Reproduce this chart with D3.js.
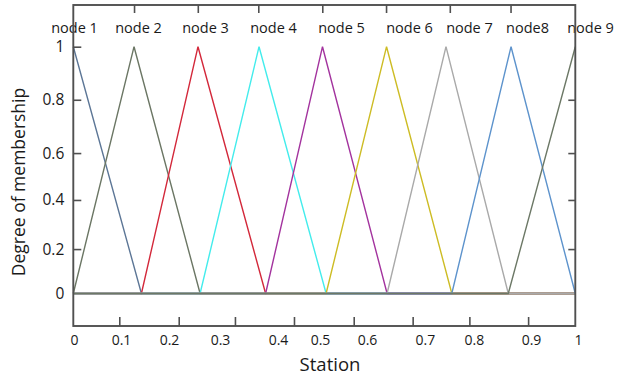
<!DOCTYPE html>
<html>
<head>
<meta charset="utf-8">
<script src="https://cdn.jsdelivr.net/npm/d3@7"></script>
<style>
  body { margin: 0; background: #fff; }
  svg { display: block; }
  text { font-family: "Open Sans", sans-serif; fill: #1a1a1a; }
</style>
</head>
<body>
<div id="chart"></div>
<script>
// membership functions (station units)
const nodes = ["node 1", "node 2", "node 3", "node 4", "node 5", "node 6", "node 7", "node8", "node 9"];
const leftFoot  = [0,     0,     0.1357, 0.2526, 0.3831, 0.5036, 0.6251, 0.754,  0.8665];
const peak      = [0,     0.121, 0.2484, 0.370,  0.4964, 0.624,  0.7424, 0.872,  1];
const rightFoot = [0.1357, 0.2526, 0.3831, 0.5036, 0.6251, 0.754, 0.8665, 1,      1];
const colors = ["#5c7696", "#6b7664", "#d3283a", "#43ecec", "#a3339e", "#cdbc24", "#a9a9a9", "#5d93cc", "#6c7866"];

// where the node names sit along the top
const nodeLabelAt = [0.0014, 0.1289, 0.2624, 0.3978, 0.5333, 0.6687, 0.7882, 0.9038, 1.0293];

// axis ticks (the picture's ticks are not evenly spaced)
const topTicks = [0.121, 0.248, 0.3685, 0.496, 0.623, 0.750, 0.871];
const bottomTicks = [0.0916, 0.210, 0.322, 0.4396, 0.5586, 0.676, 0.789, 0.906];
const xLabels = ["0", "0.1", "0.2", "0.3", "0.4", "0.5", "0.6", "0.7", "0.8", "0.9", "1"];
const xLabelAt = [0.0014, 0.095, 0.1906, 0.2922, 0.4078, 0.4914, 0.585, 0.7004, 0.798, 0.9118, 1.0054];
const yTicks = [0, 0.180, 0.379, 0.569, 0.785, 1];
const yLabels = ["0", "0.2", "0.4", "0.6", "0.8", "1"];

const W = 620, H = 377;
const boxLeft = 73.3, boxRight = 575.3, boxTop = 5, boxBottom = 326;

const svg = d3.select("#chart").append("svg")
  .attr("width", W).attr("height", H);

const x = d3.scaleLinear().domain([0, 1]).range([boxLeft, boxRight]);
const y = d3.scaleLinear().domain([0, 1]).range([293.5, 46.7]);

// lines
const line = d3.line().x(d => x(d[0])).y(d => y(d[1]));
nodes.forEach(function(n, i) {
  let pts = [];
  if (leftFoot[i] > 0) pts.push([0, 0]);
  if (leftFoot[i] < peak[i]) pts.push([leftFoot[i], 0]);
  pts.push([peak[i], 1]);
  if (rightFoot[i] > peak[i]) pts.push([rightFoot[i], 0]);
  if (rightFoot[i] < 1) pts.push([1, 0]);
  svg.append("path")
    .attr("d", line(pts))
    .attr("fill", "none")
    .attr("stroke", colors[i])
    .attr("stroke-width", 1.4);
});

// node names
const gNames = svg.append("g")
  .attr("transform", "translate(0,33)")
  .call(d3.axisTop(x).tickValues(nodeLabelAt).tickSize(0).tickPadding(0)
    .tickFormat((d, i) => nodes[i]));
gNames.select(".domain").remove();
gNames.selectAll("text").style("font-size", "14.5px").attr("fill", "#1a1a1a");

// frame
svg.append("rect")
  .attr("x", boxLeft).attr("y", boxTop)
  .attr("width", boxRight - boxLeft).attr("height", boxBottom - boxTop)
  .attr("fill", "none").attr("stroke", "#505050").attr("stroke-width", 1.9);

// ticks
function styleAxis(g) {
  g.select(".domain").remove();
  g.selectAll("line").attr("stroke", "#505050").attr("stroke-width", 1.6);
}
svg.append("g").attr("transform", "translate(0," + boxTop + ")")
  .call(d3.axisTop(x).tickValues(topTicks).tickSize(-8).tickFormat(""))
  .call(styleAxis);
svg.append("g").attr("transform", "translate(0," + boxBottom + ")")
  .call(d3.axisBottom(x).tickValues(bottomTicks).tickSize(-9).tickFormat(""))
  .call(styleAxis);
svg.append("g").attr("transform", "translate(" + boxRight + ",0)")
  .call(d3.axisRight(y).tickValues(yTicks.slice(1, 5)).tickSize(-7).tickFormat(""))
  .call(styleAxis);
const gy = svg.append("g").attr("transform", "translate(" + boxLeft + ",0)")
  .call(d3.axisLeft(y).tickValues(yTicks).tickSize(-8).tickPadding(9)
    .tickFormat((d, i) => yLabels[i]))
  .call(styleAxis);
gy.selectAll("text").style("font-size", "15.5px").attr("fill", "#111");
gy.selectAll(".tick").filter(d => d === 0).select("line").remove();

// x labels
const gx = svg.append("g").attr("transform", "translate(0," + boxBottom + ")")
  .call(d3.axisBottom(x).tickValues(xLabelAt).tickSize(0).tickPadding(9)
    .tickFormat((d, i) => xLabels[i]));
gx.select(".domain").remove();
gx.selectAll("text").style("font-size", "14px").attr("fill", "#1a1a1a");

// axis titles
svg.append("text")
  .attr("x", 330).attr("y", 371)
  .attr("text-anchor", "middle")
  .style("font-size", "18.5px")
  .text("Station");
svg.append("text")
  .attr("transform", "translate(25,182) rotate(-90)")
  .attr("text-anchor", "middle")
  .style("font-size", "17.5px")
  .text("Degree of membership");
</script>
</body>
</html>
